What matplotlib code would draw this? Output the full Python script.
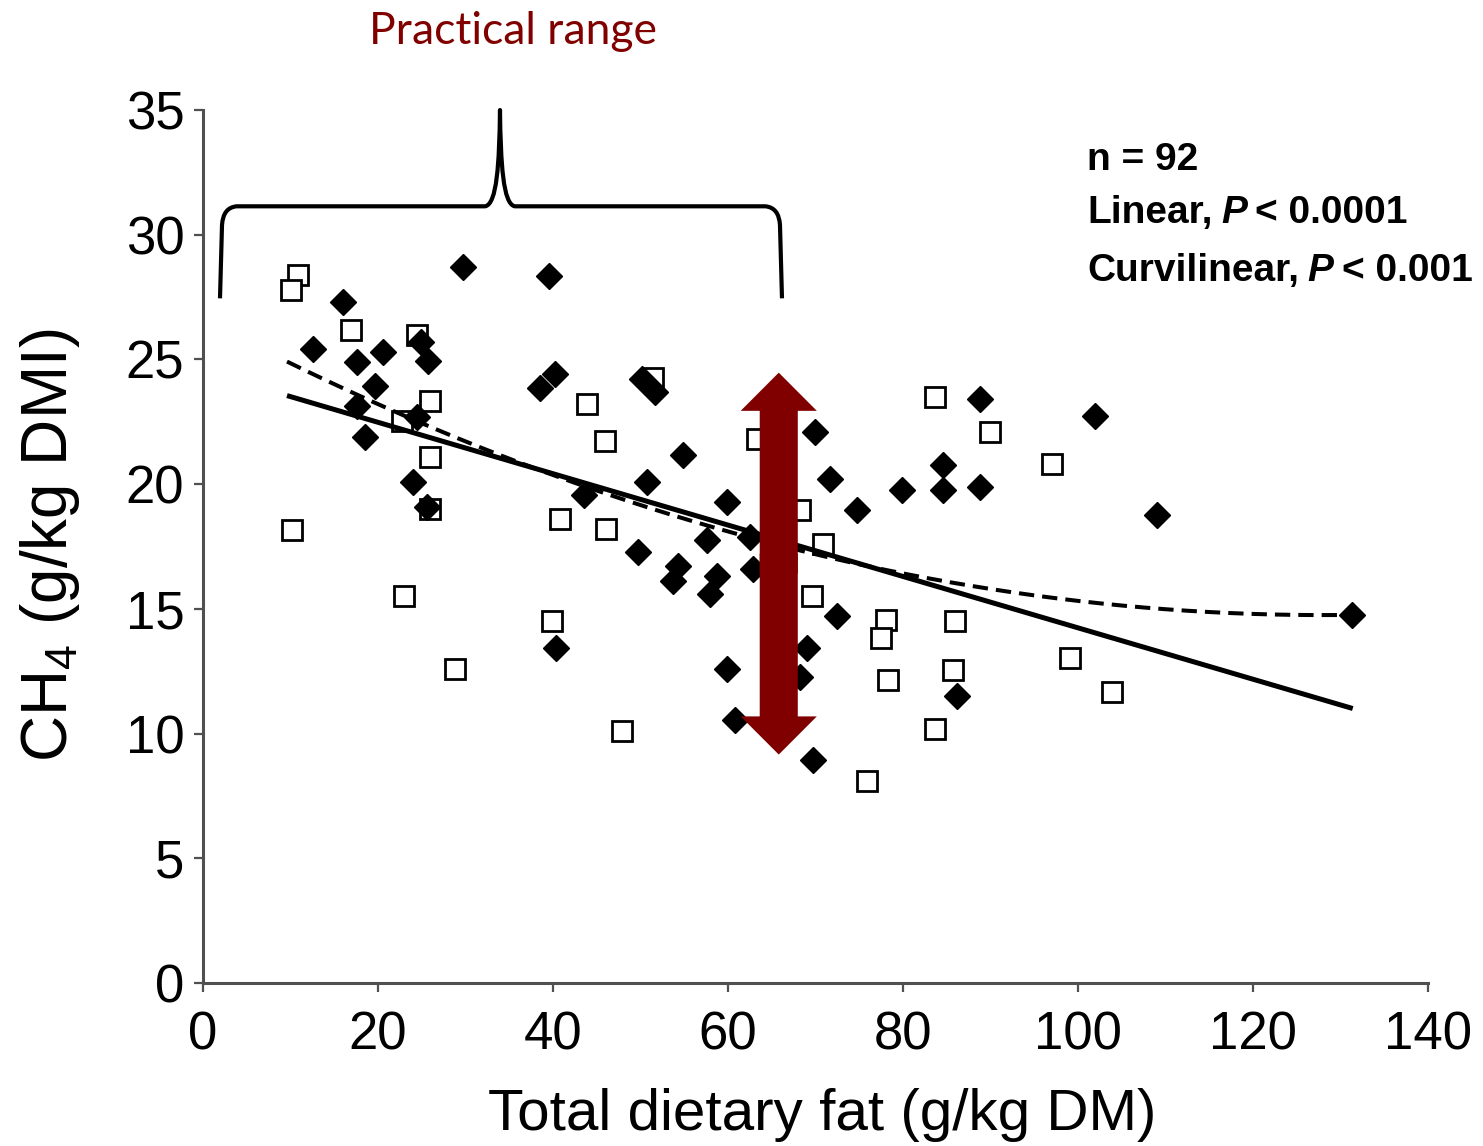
"""CH4 yield vs total dietary fat, with practical-range brace and arrow."""

import numpy as np
import matplotlib.pyplot as plt
import matplotlib.patches as mpatches
from matplotlib.path import Path

plt.rcParams['font.family'] = ['Liberation Sans', 'DejaVu Sans']

# --- Data -------------------------------------------------------------------
# open squares
sq_x = [10.9, 10.1, 16.9, 24.5, 25.9, 22.7, 25.9, 25.9, 10.2, 23.0, 28.8,
        39.9, 40.8, 43.9, 45.9, 46.1, 51.4, 47.9, 63.3, 68.2, 70.9, 69.6,
        83.7, 89.9, 78.1, 77.5, 78.3, 86.0, 85.7, 83.7, 75.9, 97.0, 99.1, 103.9]
sq_y = [28.4, 27.8, 26.2, 26.0, 23.35, 22.55, 21.1, 19.0, 18.15, 15.5, 12.6,
        14.5, 18.6, 23.2, 21.75, 18.2, 24.25, 10.1, 21.8, 18.95, 17.6, 15.5,
        23.5, 22.1, 14.55, 13.85, 12.15, 14.5, 12.55, 10.2, 8.1, 20.8, 13.05, 11.65]

# filled diamonds
dm_x = [16.0, 12.6, 17.6, 20.6, 19.7, 17.6, 18.5, 24.9, 25.7, 24.0, 24.5,
        25.6, 29.7, 39.5, 38.5, 40.2, 50.2, 51.6, 40.3, 43.5, 50.7, 54.8,
        49.7, 53.7, 54.3, 58.7, 57.9, 57.6, 59.9, 59.9, 60.8, 62.5, 62.9,
        69.9, 71.7, 74.7, 72.4, 69.0, 68.2, 69.7, 79.9, 84.6, 84.6, 88.8,
        88.8, 86.2, 101.9, 109.0, 131.3]
dm_y = [27.3, 25.4, 24.9, 25.3, 23.95, 23.15, 21.9, 25.7, 24.95, 20.1, 22.7,
        19.1, 28.7, 28.35, 23.85, 24.4, 24.2, 23.7, 13.45, 19.55, 20.1, 21.15,
        17.3, 16.1, 16.7, 16.3, 15.6, 17.75, 19.3, 12.6, 10.55, 17.9, 16.6,
        22.1, 20.2, 18.95, 14.7, 13.45, 12.25, 8.95, 19.75, 20.75, 19.75, 23.4,
        19.9, 11.5, 22.75, 18.75, 14.75]

# regression fits (coefficients)
lin_coef = [24.54, -0.103]              # y = a + b*x
quad_coef = [26.63, -0.1856, 0.000725]  # y = a + b*x + c*x^2
fit_lo, fit_hi = 9.6, 131.4

x_ticks = [0, 20, 40, 60, 80, 100, 120, 140]
y_ticks = [0, 5, 10, 15, 20, 25, 30, 35]

# practical range bracket and the arrow (data units)
range_lo, range_hi, range_mid = 1.94, 66.17, 33.94
arrow_x = 65.8
arrow_lo, arrow_hi = 9.16, 24.47

DARK_RED = '#800000'
AXIS_GREY = '#505050'

# --- Figure -----------------------------------------------------------------
fig = plt.figure(figsize=(14.83, 11.46), dpi=100)
ax = fig.add_axes([0.1369, 0.1422, 0.8260, 0.7618])

ax.plot(sq_x, sq_y, 's', ms=14.2, mew=2.0, mec='black', mfc='white',
        ls='none', zorder=3)
ax.plot(dm_x, dm_y, 'D', ms=13.5, mew=1.0, mec='black', mfc='black',
        ls='none', zorder=4)

xs = np.linspace(fit_lo, fit_hi, 200)
ax.plot(xs, lin_coef[0] + lin_coef[1] * xs, color='black', lw=3.6,
        solid_capstyle='butt', zorder=5)
dash_line, = ax.plot(xs, quad_coef[0] + quad_coef[1] * xs + quad_coef[2] * xs**2,
                     color='black', lw=2.9, zorder=5)
dash_line.set_dashes((3.8, 2.0))

ax.set_xlim(0, 140)
ax.set_ylim(0, 35)
ax.set_xticks(x_ticks)
ax.set_yticks(y_ticks)
ax.tick_params(direction='out', length=6.5, width=1.6, color=AXIS_GREY,
               labelsize=38, labelcolor='black')
ax.tick_params(axis='y', pad=7)
ax.tick_params(axis='x', pad=13)
for side in ['top', 'right']:
    ax.spines[side].set_visible(False)
for side in ['left', 'bottom']:
    ax.spines[side].set_color(AXIS_GREY)
    ax.spines[side].set_linewidth(2.2)

fig.text(0.5546, 0.014, 'Total dietary fat (g/kg DM)', ha='center',
         va='baseline', fontsize=42)
fig.text(0.034, 0.524, r'CH$_\mathregular{4}$ (g/kg DMI)', rotation=90,
         ha='center', va='center', fontsize=46)

# --- Arrow (double headed, two overlapping halves) --------------------------
mid = (arrow_lo + arrow_hi) / 2
half = (arrow_hi - arrow_lo) / 2
for sign in (1, -1):
    ax.add_patch(mpatches.FancyArrow(arrow_x, mid - sign * 0.4, 0,
                                     sign * (half + 0.4), width=4.35,
                                     head_width=8.7, head_length=1.53,
                                     length_includes_head=True,
                                     color=DARK_RED, lw=0, zorder=6))

# --- Curly bracket over the practical range ---------------------------------
yb, yh, yt = 27.45, 31.14, 35.0
x0, x1, xm = range_lo, range_hi, range_mid
verts = [
    (x0, yb), (x0 + 0.23, yh - 0.75),
    (x0 + 0.35, yh - 0.05), (x0 + 1.9, yh),
    (xm - 1.7, yh),
    (xm - 0.35, yh + 0.08), (xm - 0.08, yh + 1.7), (xm, yt),
    (xm + 0.08, yh + 1.7), (xm + 0.35, yh + 0.08), (xm + 1.7, yh),
    (x1 - 1.9, yh),
    (x1 - 0.35, yh - 0.05), (x1 - 0.23, yh - 0.75),
    (x1, yb),
]
codes = [Path.MOVETO, Path.LINETO,
         Path.CURVE3, Path.CURVE3,
         Path.LINETO,
         Path.CURVE4, Path.CURVE4, Path.CURVE4,
         Path.CURVE4, Path.CURVE4, Path.CURVE4,
         Path.LINETO,
         Path.CURVE3, Path.CURVE3,
         Path.LINETO]
ax.add_patch(mpatches.PathPatch(Path(verts, codes), fill=False, lw=3.0,
                                color='black', capstyle='butt',
                                joinstyle='round', clip_on=False, zorder=6))

fig.text(0.346, 0.9616, 'Practical range', ha='center', va='baseline',
         fontsize=32, color=DARK_RED, family=['Lato', 'DejaVu Sans'])

# --- Statistics block -------------------------------------------------------
stat = dict(family=['Liberation Sans', 'DejaVu Sans'],
            fontweight='bold', fontsize=28)
fig.text(0.733, 0.8517, 'n = 92', va='baseline', **stat)
for yy, name, pval in [(0.7985, 'Linear,', '< 0.0001'),
                       (0.7478, 'Curvilinear,', '< 0.001')]:
    t1 = fig.text(0.733, yy, name, va='bottom', **stat)
    t2 = ax.annotate('P', xy=(1, 0), xycoords=t1, xytext=(6, 0),
                     textcoords='offset points', va='bottom', ha='left',
                     style='italic', **stat)
    ax.annotate(pval, xy=(1, 0), xycoords=t2, xytext=(6, 0),
                textcoords='offset points', va='bottom', ha='left', **stat)

fig.savefig('out.png', dpi=100, facecolor='white')
